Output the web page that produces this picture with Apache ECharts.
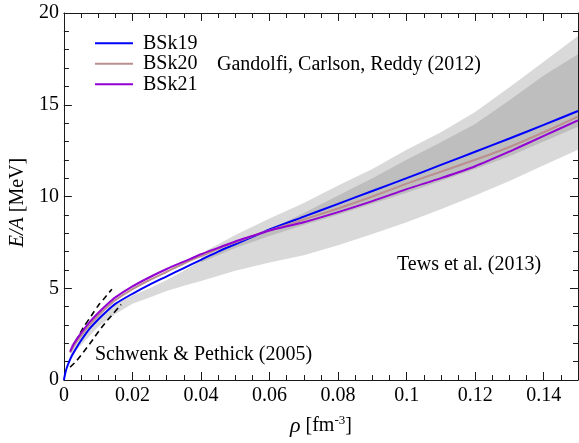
<!DOCTYPE html>
<html>
<head>
<meta charset="UTF-8">
<title></title>
<style>
	html, body { margin: 0; padding: 0; background: #fff; }
	#main { width: 579px; height: 443px; }
</style>
<script src="https://cdn.jsdelivr.net/npm/echarts@6/dist/echarts.min.js"></script>
</head>
<body>
<div id="main"></div>
<script>
	// BSk19 (starts at the origin)
	var rho19 = [0, 0.0005, 0.001, 0.002, 0.0035, 0.005, 0.0075, 0.01, 0.0125, 0.015, 0.02, 0.025, 0.03, 0.035, 0.04, 0.045, 0.05, 0.055, 0.06, 0.07, 0.08, 0.09, 0.1, 0.11, 0.12, 0.13, 0.14, 0.15]
	var bsk19 = [0, 0.45, 0.75, 1.2, 1.7, 2.15, 2.8, 3.3, 3.75, 4.15, 4.7, 5.2, 5.65, 6.1, 6.55, 7.0, 7.4, 7.8, 8.2, 8.9, 9.6, 10.3, 11.0, 11.72, 12.44, 13.16, 13.9, 14.66]

	// BSk20 / BSk21
	var rho2x = [0.0018, 0.003, 0.005, 0.0075, 0.01, 0.0125, 0.015, 0.02, 0.025, 0.03, 0.035, 0.04, 0.045, 0.05, 0.055, 0.06, 0.07, 0.08, 0.09, 0.1, 0.11, 0.12, 0.13, 0.14, 0.15]
	var bsk20 = [1.5, 1.9, 2.4, 3.0, 3.5, 3.95, 4.35, 4.95, 5.45, 5.9, 6.35, 6.75, 7.15, 7.5, 7.85, 8.15, 8.75, 9.35, 10.0, 10.7, 11.35, 12.0, 12.7, 13.5, 14.35]
	var bsk21 = [1.55, 2.0, 2.55, 3.15, 3.65, 4.1, 4.5, 5.1, 5.6, 6.05, 6.45, 6.85, 7.2, 7.55, 7.85, 8.15, 8.6, 9.15, 9.75, 10.4, 11.0, 11.65, 12.45, 13.3, 14.15]

	// Schwenk & Pethick (2005), two dashed curves
	var spRhoA = [0.002, 0.004, 0.006, 0.008, 0.01, 0.012, 0.014]
	var spA = [1.6, 2.3, 2.95, 3.5, 4.05, 4.5, 4.95]
	var spRhoB = [0.0018, 0.0037, 0.0076, 0.0114, 0.0167]
	var spB = [0.7, 1.05, 1.99, 2.96, 4.11]

	// Tews et al. (2013) band
	var tewsRho = [0.002, 0.004, 0.0075, 0.01, 0.015, 0.02, 0.025, 0.03, 0.035, 0.04, 0.05, 0.06, 0.07, 0.08, 0.09, 0.1, 0.11, 0.12, 0.13, 0.14, 0.15]
	var tewsLow = [1.2, 1.7, 2.4, 2.9, 3.6, 4.15, 4.5, 4.85, 5.13, 5.4, 5.95, 6.4, 6.8, 7.35, 7.95, 8.6, 9.3, 10.05, 10.85, 11.7, 12.55]
	var tewsHigh = [1.9, 2.4, 3.0, 3.45, 4.15, 4.6, 5.0, 5.45, 5.95, 6.5, 7.4, 8.2, 9.1, 10.05, 11.0, 12.0, 12.95, 13.95, 15.25, 16.6, 17.75]

	// Gandolfi, Carlson, Reddy (2012) band
	var gcrRho = [0.04, 0.05, 0.06, 0.07, 0.08, 0.09, 0.1, 0.11, 0.12, 0.13, 0.14, 0.15]
	var gcrLow = [6.4, 7.2, 7.85, 8.45, 9.0, 9.6, 10.2, 10.85, 11.5, 12.2, 13.0, 13.8]
	var gcrHigh = [6.9, 7.9, 8.8, 9.65, 10.6, 11.5, 12.55, 13.5, 14.6, 15.95, 17.35, 18.75]

	var FONT = '"Liberation Serif", "Times New Roman", serif'
	var INK = '#1a1a1a'

	function interp(xs, ys, x) {
		for (var i = 1; i < xs.length; i++) {
			if (x <= xs[i]) {
				var t = (x - xs[i - 1]) / (xs[i] - xs[i - 1])
				return ys[i - 1] + t * (ys[i] - ys[i - 1])
			}
		}
		return ys[ys.length - 1]
	}

	// where the two bands overlap (darker grey)
	var ovLow = gcrRho.map(function (x, i) { return Math.max(gcrLow[i], interp(tewsRho, tewsLow, x)) })
	var ovHigh = gcrRho.map(function (x, i) { return Math.min(gcrHigh[i], interp(tewsRho, tewsHigh, x)) })

	function pairs(xs, ys) {
		return xs.map(function (x, i) { return [x, ys[i]] })
	}

	function band(name, xs, lo, hi, color, z) {
		return {
			name: name,
			type: 'custom',
			silent: true,
			z: z,
			data: xs.map(function (x, i) { return [x, lo[i], hi[i]] }),
			encode: { x: 0, y: [1, 2] },
			renderItem: function (params, api) {
				if (params.dataIndex !== 0) return
				var pts = []
				for (var i = 0; i < xs.length; i++) pts.push(api.coord([xs[i], hi[i]]))
				for (var j = xs.length - 1; j >= 0; j--) pts.push(api.coord([xs[j], lo[j]]))
				return { type: 'polygon', shape: { points: pts }, style: { fill: color, stroke: null } }
			}
		}
	}

	function curve(name, xs, ys, color) {
		return {
			name: name,
			type: 'line',
			data: pairs(xs, ys),
			symbol: 'none',
			smooth: 0.25,
			z: 5,
			lineStyle: { color: color, width: 2 },
			itemStyle: { color: color }
		}
	}

	function dashed(xs, ys) {
		return {
			type: 'line',
			data: pairs(xs, ys),
			symbol: 'none',
			smooth: 0.25,
			z: 4,
			silent: true,
			lineStyle: { color: '#000', width: 1.6, type: [6, 4] }
		}
	}

	var myChart = echarts.init(document.getElementById('main'))

	var majorX = function (pos, labels) {
		return {
			type: 'value', position: pos, min: 0, max: 0.15, interval: 0.02,
			axisLine: { show: true, onZero: false, lineStyle: { color: INK, width: 1 } },
			axisTick: { show: true, inside: true, length: 8, lineStyle: { color: INK } },
			axisLabel: { show: labels, showMaxLabel: false, fontSize: 20, fontFamily: FONT, color: '#000', margin: 6 },
			splitLine: { show: false }
		}
	}
	var minorX = function (pos) {
		return {
			type: 'value', position: pos, min: 0, max: 0.15, interval: 0.005,
			axisLine: { show: false, onZero: false },
			axisTick: { show: true, inside: true, length: 5, lineStyle: { color: INK } },
			axisLabel: { show: false },
			splitLine: { show: false }
		}
	}
	var yAx = function (pos, labels) {
		return {
			type: 'value', position: pos, min: 0, max: 20, interval: 5,
			axisLine: { show: true, onZero: false, lineStyle: { color: INK, width: 1 } },
			axisTick: { show: true, inside: true, length: 8, lineStyle: { color: INK } },
			minorTick: { show: true, splitNumber: 5, length: 5, lineStyle: { color: INK } },
			axisLabel: { show: labels, fontSize: 20, fontFamily: FONT, color: '#000', margin: 5 },
			splitLine: { show: false }
		}
	}

	var xBottom = majorX('bottom', true)
	xBottom.name = '{i|ρ} [fm{s|-3}]'
	xBottom.nameLocation = 'middle'
	xBottom.nameGap = 34
	xBottom.nameTextStyle = {
		fontSize: 20, fontFamily: FONT, color: '#000', lineHeight: 24,
		rich: {
			i: { fontSize: 22, fontFamily: FONT, fontStyle: 'italic', color: '#000', lineHeight: 24 },
			s: { fontSize: 13, fontFamily: FONT, color: '#000', lineHeight: 13, verticalAlign: 'top' }
		}
	}

	var yLeft = yAx('left', true)
	yLeft.name = '{i|E/A} [MeV]'
	yLeft.nameLocation = 'middle'
	yLeft.nameRotate = 90
	yLeft.nameGap = 34
	yLeft.nameTextStyle = {
		fontSize: 20, fontFamily: FONT, color: '#000', padding: [0, 12, 0, 0],
		rich: { i: { fontSize: 20, fontFamily: FONT, fontStyle: 'italic', color: '#000' } }
	}

	var option = {
		animation: false,
		backgroundColor: '#fff',
		grid: { left: 57, right: 1, top: 13, bottom: 52 },
		xAxis: [xBottom, minorX('bottom'), majorX('top', false), minorX('top')],
		yAxis: [yLeft, yAx('right', false)],
		legend: {
			data: ['BSk19', 'BSk20', 'BSk21'],
			orient: 'vertical',
			left: 90,
			top: 28,
			icon: 'rect',
			itemWidth: 38,
			itemHeight: 2,
			itemGap: 0,
			textStyle: { fontSize: 20, fontFamily: FONT, color: '#000', lineHeight: 20.5, padding: [0, 0, 0, 5] }
		},
		graphic: [
			{ type: 'text', left: 217, top: 55, style: { text: 'Gandolfi, Carlson, Reddy (2012)', font: '20px ' + FONT, fill: '#000' } },
			{ type: 'text', left: 397, top: 255, style: { text: 'Tews et al. (2013)', font: '20px ' + FONT, fill: '#000' } },
			{ type: 'text', left: 95, top: 345, style: { text: 'Schwenk & Pethick (2005)', font: '20px ' + FONT, fill: '#000' } }
		],
		series: [
			band('Tews', tewsRho, tewsLow, tewsHigh, '#d9d9d9', 1),
			band('GCR', gcrRho, gcrLow, gcrHigh, '#d9d9d9', 1),
			band('overlap', gcrRho, ovLow, ovHigh, '#bebebe', 2),
			dashed(spRhoA, spA),
			dashed(spRhoB, spB),
			curve('BSk19', rho19, bsk19, '#0000ff'),
			curve('BSk20', rho2x, bsk20, '#bc8f8f'),
			curve('BSk21', rho2x, bsk21, '#9400d3')
		]
	}

	myChart.setOption(option)
</script>
</body>
</html>
